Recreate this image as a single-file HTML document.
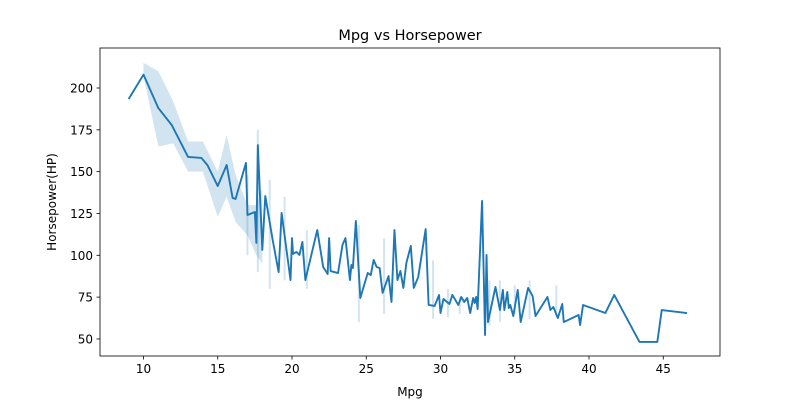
<!DOCTYPE html>
<html><head><meta charset="utf-8"><style>
body{margin:0;background:#fff;width:800px;height:400px;overflow:hidden}
text{font-family:"DejaVu Sans","Liberation Sans",sans-serif;fill:#000}
</style></head><body>
<svg id="chart" width="800" height="400" xmlns="http://www.w3.org/2000/svg">
<rect width="800" height="400" fill="#fff"/>
<g id="bands"></g>
<g id="lines"></g>
<rect x="100" y="48" width="620" height="308" fill="none" stroke="#000" stroke-width="0.8"/>
<g id="xt"></g>
<g id="yt"></g>
<text x="410" y="40" font-size="14.5" text-anchor="middle">Mpg vs Horsepower</text>
<text x="410" y="396" font-size="12" text-anchor="middle">Mpg</text>
<text transform="translate(56,202) rotate(-90)" font-size="12" text-anchor="middle">Horsepower(HP)</text>
</svg>
<script>
const mpg=[9.0,10.0,11.0,11.9,13.0,13.9,14.3,15.0,15.6,16.0,16.2,16.9,17.0,17.5,17.6,17.7,18.0,18.2,18.7,19.1,19.3,19.9,20.0,20.07,20.3,20.5,20.7,20.9,21.7,22.1,22.4,22.5,22.6,23.1,23.4,23.6,23.9,24.0,24.1,24.3,24.6,25.1,25.3,25.5,25.7,25.9,26.1,26.5,26.7,26.9,27.1,27.3,27.5,27.7,28.0,28.2,28.5,29.0,29.2,29.6,29.9,30.0,30.2,30.6,30.8,31.2,31.4,31.6,31.8,32.0,32.2,32.3,32.4,32.5,32.8,33.0,33.1,33.2,33.7,34.0,34.2,34.3,34.5,34.6,34.7,34.9,35.2,35.4,35.9,36.2,36.4,37.2,37.4,37.6,37.9,38.2,38.3,39.3,39.4,39.6,41.1,41.7,43.4,44.6,44.9,46.6];
const hp=[193.4,208.0,188.0,177.9,158.8,158.2,154.0,141.4,154.0,134.3,133.7,155.2,124.1,125.9,107.4,165.9,103.2,135.4,109.1,90.0,125.3,85.2,110.3,100.8,102.0,100.2,108.0,85.2,115.1,93.0,88.8,110.3,90.6,89.4,106.2,110.3,85.2,94.2,92.4,120.5,74.5,89.4,88.2,97.2,93.0,92.4,77.5,87.6,72.1,115.1,85.2,90.6,80.5,95.4,105.6,80.5,87.0,115.7,70.3,69.7,76.3,65.5,73.9,70.9,76.3,70.3,75.1,72.1,74.5,65.5,74.5,71.5,75.1,67.9,132.5,52.4,100.2,60.1,81.1,67.3,79.3,67.3,78.1,68.5,70.3,63.7,79.3,60.1,80.5,75.7,63.7,75.1,67.3,69.1,62.5,70.9,60.1,64.3,58.3,70.3,65.5,76.3,48.2,48.2,67.3,65.5];
const bandMpg=[10,11,12,13,14,15,15.6,16.2,17,17.6,18];
const bandHi=[215,210,192,168,168,150,172,148,130,130,140];
const bandLo=[207,165,167,150,150,123,135,120,112,100,95];
const sliverMpg=[17.0,17.7,18.5,19.5,21.0,24.5,26.2,29.5,30.5,31.3,33.3,34.0,35.0,36.0,37.8];
const sliverLo=[100,90,80,85,80,60,65,62,63,65,58,60,65,62,65];
const sliverHi=[148,175,145,135,115,118,110,97,80,75,85,85,82,85,82];
const xTicks=[10,15,20,25,30,35,40,45];
const yTicks=[50,75,100,125,150,175,200];
const X=v=>143.5+(v-10)*14.85;
const Y=v=>88+(200-v)*1.673;
const NS="http://www.w3.org/2000/svg";
function mk(t,a,p){const e=document.createElementNS(NS,t);for(const k in a)e.setAttribute(k,a[k]);p.appendChild(e);return e;}
const bands=document.getElementById('bands');
let pts=bandMpg.map((m,i)=>X(m)+','+Y(bandHi[i]));
for(let i=bandMpg.length-1;i>=0;i--)pts.push(X(bandMpg[i])+','+Y(bandLo[i]));
const bp=mk('polygon',{points:pts.join(' '),fill:'#1f77b4','fill-opacity':0.2},bands);


sliverMpg.forEach((m,i)=>{
 const r=mk('rect',{x:X(m)-1,y:Y(sliverHi[i]),width:2,height:Y(sliverLo[i])-Y(sliverHi[i]),fill:'#1f77b4','fill-opacity':0.2},bands);
 
 
});
const ln=mk('polyline',{points:mpg.map((m,i)=>X(m)+','+Y(hp[i])).join(' '),fill:'none',stroke:'#1f77b4','stroke-width':1.9,'stroke-linejoin':'round'},document.getElementById('lines'));


const xt=document.getElementById('xt');
xTicks.forEach(v=>{
 mk('line',{x1:X(v),x2:X(v),y1:356,y2:359.5,stroke:'#000','stroke-width':0.8},xt);
 const t=mk('text',{x:X(v),y:373,'font-size':12,'text-anchor':'middle'},xt);t.textContent=v;
 
 
});
const yt=document.getElementById('yt');
yTicks.forEach(v=>{
 mk('line',{x1:96.5,x2:100,y1:Y(v),y2:Y(v),stroke:'#000','stroke-width':0.8},yt);
 const t=mk('text',{x:93,y:Y(v)+4.5,'font-size':12,'text-anchor':'end'},yt);t.textContent=v;
 
 
});
</script>
</body></html>
